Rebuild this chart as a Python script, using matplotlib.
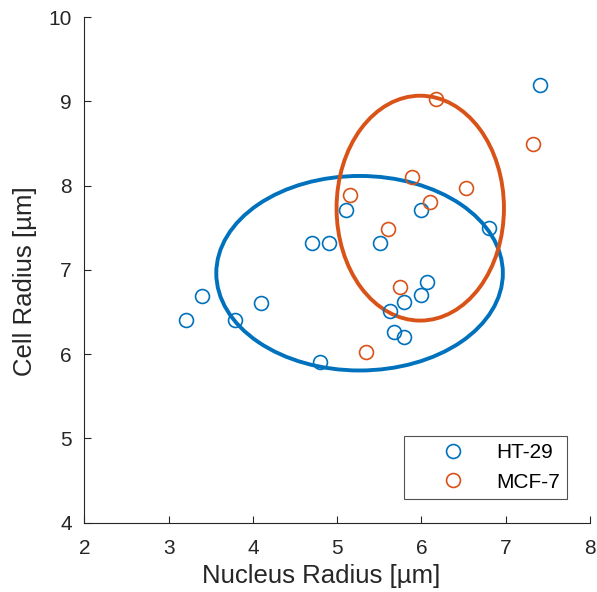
import matplotlib.pyplot as plt
from matplotlib.patches import Ellipse

# Data

ht29_nucleus = [3.21, 3.40, 3.79, 4.10, 4.70, 4.90, 4.80, 5.10, 5.51, 5.63,
                5.68, 5.79, 5.79, 5.99, 5.99, 6.07, 6.80, 7.41]
ht29_cell = [6.41, 6.69, 6.41, 6.61, 7.32, 7.32, 5.91, 7.71, 7.32, 6.51,
             6.26, 6.62, 6.20, 7.71, 6.70, 6.86, 7.50, 9.19]

mcf7_nucleus = [5.15, 5.60, 5.89, 6.10, 6.17, 5.74, 6.53, 5.34, 7.32]
mcf7_cell = [7.89, 7.49, 8.10, 7.81, 9.03, 6.80, 7.97, 6.03, 8.49]

# ellipse: center x, center y, half width, half height
ht29_ellipse = [5.266, 6.96, 1.70, 1.154]
mcf7_ellipse = [5.986, 7.732, 0.993, 1.334]

labels = ["HT-29", "MCF-7"]
colors = ["#0072BD", "#D95319"]

# Figure

plt.rcParams['font.family'] = ['Liberation Sans', 'DejaVu Sans']

fig = plt.figure(figsize=(5.97, 5.92), dpi=100)
ax = fig.add_axes([84.3 / 597, 1 - 522.7 / 592, 505.7 / 597, 505.7 / 592])

for nx, cy, ell, lab, col in [(ht29_nucleus, ht29_cell, ht29_ellipse, labels[0], colors[0]),
                              (mcf7_nucleus, mcf7_cell, mcf7_ellipse, labels[1], colors[1])]:
    ax.plot(nx, cy, 'o', markersize=10, markerfacecolor='none',
            markeredgecolor=col, markeredgewidth=1.2, label=lab, zorder=3)
    ax.add_patch(Ellipse((ell[0], ell[1]), 2 * ell[2], 2 * ell[3],
                         fill=False, edgecolor=col, linewidth=2.8, zorder=2))

ax.set_xlim(2, 8)
ax.set_ylim(4, 10)
ax.set_xticks(range(2, 9))
ax.set_yticks(range(4, 11))
ax.spines['top'].set_visible(False)
ax.spines['right'].set_visible(False)
for s in ['left', 'bottom']:
    ax.spines[s].set_color('#262626')
    ax.spines[s].set_linewidth(0.8)
ax.tick_params(direction='in', length=5, width=0.8, colors='#262626',
               labelsize=15)
ax.tick_params(axis='x', pad=12)
ax.tick_params(axis='y', pad=9)
ax.set_xlabel('Nucleus Radius [µm]', fontsize=18.5, color='#262626', labelpad=4)
ax.set_ylabel('Cell Radius [µm]', fontsize=18.5, color='#262626', labelpad=8)
ax.xaxis.label.set_x(0.469)
ax.yaxis.label.set_y(0.477)

leg = ax.legend(loc='lower right', fontsize=15, frameon=True, fancybox=False,
                edgecolor='#262626', borderpad=0.36, handletextpad=0.05,
                handlelength=4.0, labelspacing=0.5, borderaxespad=0,
                bbox_to_anchor=(567 / 597, 1 - 499 / 592),
                bbox_transform=fig.transFigure)
leg.get_frame().set_linewidth(0.8)

plt.savefig('out.png', dpi=100)
